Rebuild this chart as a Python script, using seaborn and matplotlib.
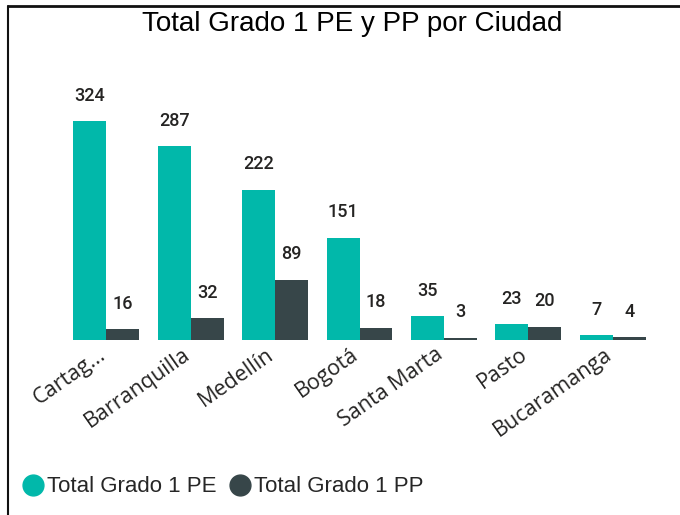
import matplotlib
matplotlib.use("Agg")
import matplotlib.pyplot as plt
import matplotlib.transforms as mtransforms
import seaborn as sns
import pandas as pd
from matplotlib.lines import Line2D

cities = ["Cartag...", "Barranquilla", "Medellín", "Bogotá", "Santa Marta", "Pasto", "Bucaramanga"]
pe_values = [324, 287, 222, 151, 35, 23, 7]
pp_values = [16, 32, 89, 18, 3, 20, 4]
series_names = ["Total Grado 1 PE", "Total Grado 1 PP"]
colors = ["#01B8AA", "#374649"]

df = pd.DataFrame({
    "Ciudad": cities * 2,
    "Serie": [series_names[0]] * len(cities) + [series_names[1]] * len(cities),
    "Valor": pe_values + pp_values,
})

sns.set_theme(style="white")
fig = plt.figure(figsize=(6.8, 5.15), dpi=100)
ax = fig.add_axes([64 / 680, 1 - 340 / 515, (655 - 64) / 680, (340 - 70) / 515])

sns.barplot(data=df, x="Ciudad", y="Valor", hue="Serie", palette=colors,
            width=0.78, saturation=1, ax=ax, legend=False, linewidth=0, edgecolor="none")
ax.set_ylim(0, 400)
ax.set_xlim(-0.5, 6.5)
for s in ax.spines.values():
    s.set_visible(False)
ax.set_yticks([])
ax.set_xlabel("")
ax.set_ylabel("")
ax.tick_params(axis="x", length=0, pad=3)
offset = mtransforms.ScaledTranslation(-9 / 100, 0, fig.dpi_scale_trans)
for lab in ax.get_xticklabels():
    lab.set_rotation(35)
    lab.set_ha("right")
    lab.set_rotation_mode("anchor")
    lab.set_fontsize(15.5)
    lab.set_family(["Open Sans", "DejaVu Sans"])
    lab.set_color("#252423")
    lab.set_transform(lab.get_transform() + offset)

for cont in ax.containers:
    ax.bar_label(cont, padding=12, fontsize=13, color="#252423",
                 family="Roboto", fontweight="medium")

fig.text(352 / 680, 1 - 24 / 515, "Total Grado 1 PE y PP por Ciudad",
         ha="center", va="center", fontsize=20, family="Liberation Sans", color="#000000")

handles = [Line2D([0], [0], marker="o", linestyle="", markersize=15,
                  markerfacecolor=c, markeredgecolor=c) for c in colors]
fig.legend(handles, series_names, loc="center left", bbox_to_anchor=(16 / 680, 1 - 487 / 515),
           frameon=False, ncol=2, handletextpad=-0.1, columnspacing=0.3, handlelength=1.5,
           borderpad=0, borderaxespad=0,
           prop={"family": "Liberation Sans", "size": 16})

fig.add_artist(Line2D([8 / 680, 8 / 680], [0, 1 - 6 / 515], transform=fig.transFigure,
                      color="#111111", lw=1.5))
fig.add_artist(Line2D([8 / 680, 1], [1 - 6 / 515, 1 - 6 / 515], transform=fig.transFigure,
                      color="#111111", lw=2))

fig.savefig("out.png", dpi=100)
